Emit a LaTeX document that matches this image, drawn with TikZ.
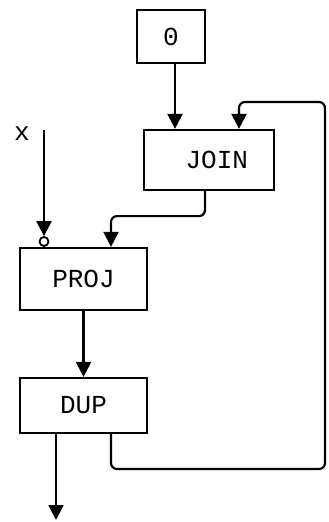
\documentclass[tikz,border=0pt]{standalone}
\usepackage{fontspec}
\setmonofont{Liberation Mono}
\usetikzlibrary{arrows.meta}
\begin{document}
\begin{tikzpicture}[x=1pt,y=-1pt,line width=2.2pt,
    box/.style={draw,inner sep=0pt,font=\ttfamily\fontsize{26}{26}\selectfont},
    >={Triangle[width=15pt,length=15pt]}]
  \useasboundingbox (0,0) rectangle (329,522);
  \node[box,minimum width=68,minimum height=53] (zero) at (171,36.5) {0};
  \node[box,minimum width=130,minimum height=60] (join) at (209,160) {~JOIN};
  \node[box,minimum width=127,minimum height=62] (proj) at (83.5,279) {PROJ};
  \node[box,minimum width=127,minimum height=55] (dup) at (83.5,405.5) {DUP};
  \node[font=\ttfamily\fontsize{26}{26}\selectfont] (x) at (22,134) {x};
  \node[circle,draw,line width=1.8pt,inner sep=0pt,minimum size=9,anchor=south] (neg)
    at ([xshift=-39.5]proj.north) {};
  \coordinate (xin) at (44,130);
  \coordinate (out) at (56,520);
  \draw[->] ([xshift=4]zero.south) -- ([xshift=-34]join.north);
  \draw[->,rounded corners=6pt] ([xshift=27.5]dup.south) |- (325,469) |- (239,102)
    -- ([xshift=30]join.north);
  \draw[->,rounded corners=6pt] ([xshift=-4]join.south) -- ++(0,25)
    -| ([xshift=27.5]proj.north);
  \draw[->] (xin) -- (neg);
  \draw[->] (proj) -- (dup);
  \draw[->] ([xshift=-27.5]dup.south) -- (out);
\end{tikzpicture}
\end{document}
